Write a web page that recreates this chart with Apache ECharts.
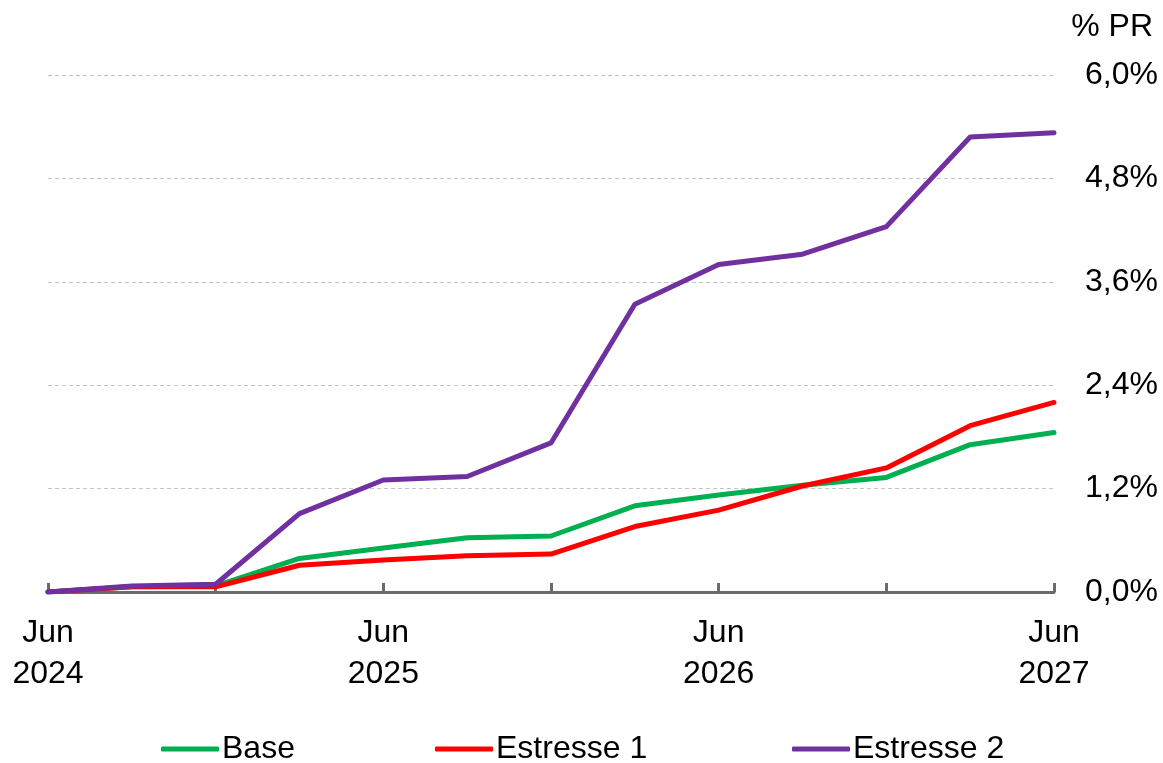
<!DOCTYPE html>
<html>
<head>
<meta charset="utf-8">
<script src="https://cdn.jsdelivr.net/npm/echarts@6/dist/echarts.min.js"></script>
<style>
  html, body { margin: 0; padding: 0; background: #ffffff; }
  #chart { width: 1163px; height: 763px; }
</style>
</head>
<body>
<div id="chart"></div>
<script>
// Quarterly points, June 2024 to June 2027
const categories = [
  'Jun\n2024', 'Set\n2024', 'Dez\n2024', 'Mar\n2025',
  'Jun\n2025', 'Set\n2025', 'Dez\n2025', 'Mar\n2026',
  'Jun\n2026', 'Set\n2026', 'Dez\n2026', 'Mar\n2027',
  'Jun\n2027'
];

// Cumulative values, % of PR
const baseValues      = [0, 0.06, 0.07, 0.39, 0.51, 0.63, 0.65, 1.00, 1.125, 1.24, 1.33, 1.71, 1.85];
const estresse1Values = [0, 0.06, 0.06, 0.31, 0.37, 0.42, 0.44, 0.76, 0.95, 1.23, 1.44, 1.93, 2.20];
const estresse2Values = [0, 0.07, 0.09, 0.91, 1.30, 1.34, 1.73, 3.34, 3.80, 3.92, 4.24, 5.28, 5.33];

const seriesNames = ['Base', 'Estresse 1', 'Estresse 2'];
const yTicks = { min: 0, max: 6, step: 1.2 };

const FONT = '"Liberation Sans", Arial, sans-serif';
const colors = ['#00B050', '#FF0000', '#7030A0'];

const chart = echarts.init(document.getElementById('chart'), null, { renderer: 'canvas' });

// One legend block per series so each entry sits at its own spot along the bottom
function legendAt(name, left) {
  return {
    show: true,
    orient: 'horizontal',
    data: [name],
    left: left,
    top: 733,
    itemWidth: 58,
    itemHeight: 5,
    itemGap: 0,
    padding: 0,
    icon: 'roundRect',
    textStyle: { fontFamily: FONT, fontSize: 32, color: '#000000', padding: [0, 0, 0, -2] }
  };
}

const option = {
  backgroundColor: '#ffffff',
  animation: false,
  color: colors,
  title: {
    text: '% PR',
    right: 5,
    top: 6,
    textStyle: { fontFamily: FONT, fontSize: 32, fontWeight: 'normal', color: '#000000' }
  },
  legend: [
    legendAt(seriesNames[0], 161),
    legendAt(seriesNames[1], 435),
    legendAt(seriesNames[2], 792)
  ],
  grid: { left: 48, right: 109, top: 75, bottom: 171, containLabel: false },
  xAxis: {
    type: 'category',
    data: categories,
    boundaryGap: false,
    axisLine: { show: true, lineStyle: { color: '#6b6b6b', width: 3 } },
    axisTick: {
      show: true, inside: true, length: 9, interval: 1,
      lineStyle: { color: '#6b6b6b', width: 3 }
    },
    axisLabel: {
      interval: 3,
      margin: 21,
      fontFamily: FONT,
      fontSize: 32,
      lineHeight: 41,
      color: '#000000'
    },
    splitLine: { show: false }
  },
  yAxis: {
    type: 'value',
    position: 'right',
    min: yTicks.min,
    max: yTicks.max,
    interval: yTicks.step,
    axisLine: { show: false },
    axisTick: { show: false },
    axisLabel: {
      margin: 31,
      fontFamily: FONT,
      fontSize: 32,
      color: '#000000',
      formatter: v => v.toFixed(1).replace('.', ',') + '%'
    },
    splitLine: {
      show: true,
      lineStyle: { color: '#c4c4c4', width: 1, type: [4, 3] }
    }
  },
  series: [
    { name: seriesNames[0], data: baseValues },
    { name: seriesNames[1], data: estresse1Values },
    { name: seriesNames[2], data: estresse2Values }
  ].map((s, i) => ({
    name: s.name,
    type: 'line',
    data: s.data,
    symbol: 'none',
    showSymbol: false,
    lineStyle: { width: 5, color: colors[i], cap: 'round', join: 'round' },
    itemStyle: { color: colors[i] },
    z: 2 + i
  }))
};

chart.setOption(option);
</script>
</body>
</html>
